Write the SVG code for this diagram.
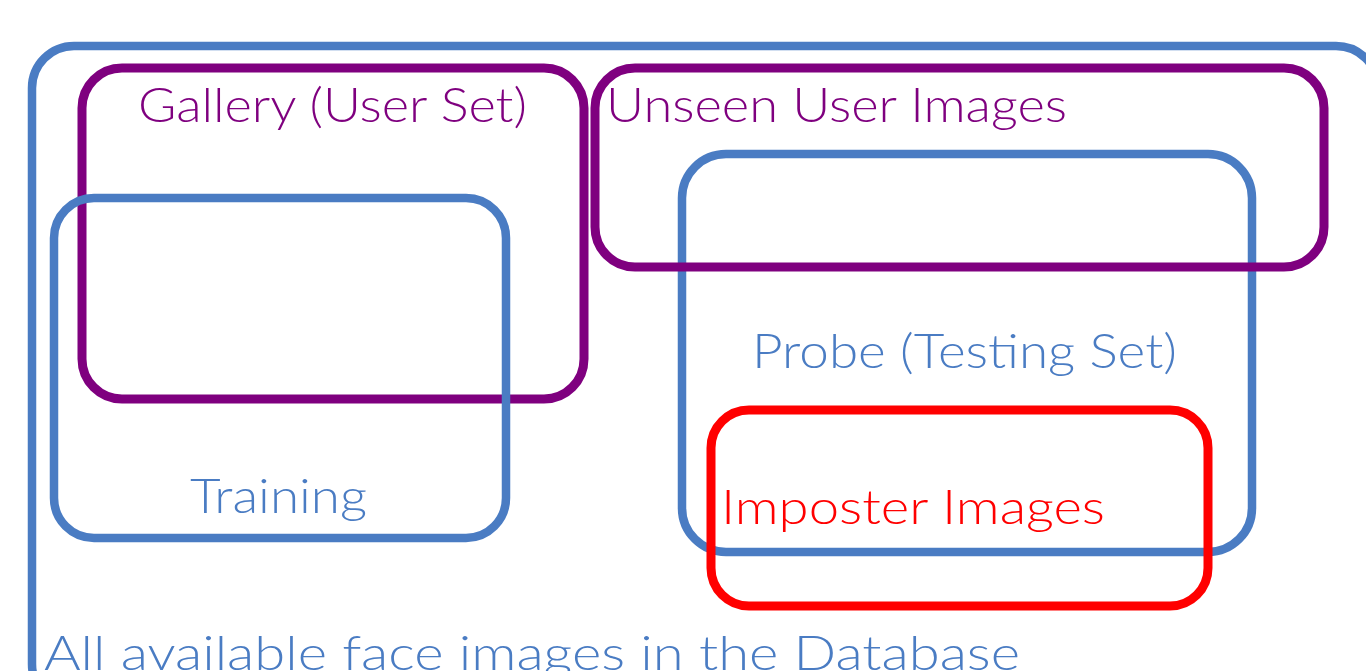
<svg xmlns="http://www.w3.org/2000/svg" width="1366" height="671" viewBox="0 0 1366 671">
  <style>
    .set { fill: none; }
    .blue { stroke: #4A7CC3; stroke-width: 8.5; }
    .purple { stroke: #7F007F; stroke-width: 9; }
    .red { stroke: #FF0000; stroke-width: 9; }
    text { font-family: Lato, "DejaVu Sans", "Liberation Sans", sans-serif; font-weight: 300; font-size: 48px; }
    .tblue { fill: #4A7CC3; }
    .tpurple { fill: #7F007F; }
    .tred { fill: #FF0000; }
  </style>
  <rect width="1366" height="671" fill="#FFFFFF"/>

  <!-- Whole database -->
  <g id="all-images">
    <rect class="set blue" x="32" y="46" width="1346" height="660" rx="42" ry="42"/>
  </g>

  <!-- Gallery (user set) -->
  <g id="gallery">
    <rect class="set purple" x="82" y="68" width="502" height="331" rx="40" ry="40"/>
  </g>

  <!-- Training set -->
  <g id="training">
    <rect class="set blue" x="54" y="198" width="452" height="340" rx="40" ry="40"/>
  </g>

  <!-- Probe (testing set) -->
  <g id="probe">
    <rect class="set blue" x="682" y="154" width="570" height="398" rx="44" ry="44"/>
  </g>

  <!-- Unseen user images -->
  <g id="unseen">
    <rect class="set purple" x="595" y="68" width="729" height="199" rx="40" ry="40"/>
  </g>

  <!-- Imposter images -->
  <g id="imposter">
    <rect class="set red" x="711" y="410" width="497" height="196" rx="38" ry="38"/>
  </g>

  <!-- Labels -->
  <g id="labels">
    <text class="tpurple" x="138" y="122" textLength="389" lengthAdjust="spacingAndGlyphs">Gallery (User Set)</text>
    <text class="tpurple" x="606" y="122" textLength="461" lengthAdjust="spacingAndGlyphs">Unseen User Images</text>
    <text class="tblue" x="752" y="368" textLength="425" lengthAdjust="spacingAndGlyphs">Probe (Testing Set)</text>
    <text class="tblue" x="190" y="513" textLength="177" lengthAdjust="spacingAndGlyphs">Training</text>
    <text class="tred" x="721" y="524" textLength="384" lengthAdjust="spacingAndGlyphs">Imposter Images</text>
    <text class="tblue" x="44" y="670" textLength="976" lengthAdjust="spacingAndGlyphs">All available face images in the Database</text>
  </g>
</svg>
